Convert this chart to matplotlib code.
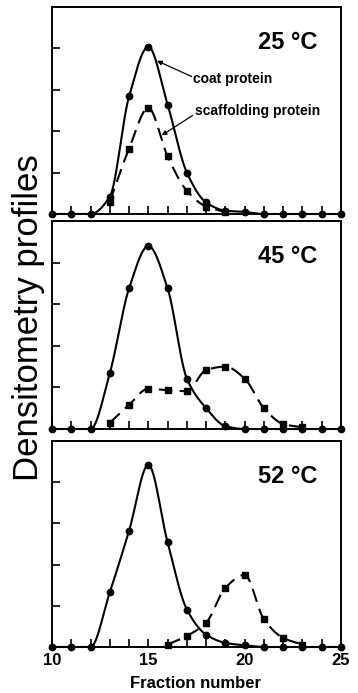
import numpy as np
import matplotlib
matplotlib.use("Agg")
import matplotlib.pyplot as plt

plt.rcParams['font.family'] = ['Liberation Sans', 'DejaVu Sans']

# ---- data ----
fractions = list(range(10, 26))

coat_25 = [0, 0, 0, 0.42, 2.84, 4.04, 2.64, 1.00, 0.28, 0.08, 0.05, 0, 0, 0, 0, 0]
scaf_x_25 = [13, 14, 15, 16, 17, 18, 19]
scaf_25 = [0.30, 1.58, 2.56, 1.39, 0.56, 0.18, 0.05]

coat_45 = [0, 0, 0, 1.34, 3.38, 4.40, 3.38, 1.21, 0.50, 0.07, 0, 0, 0, 0, 0, 0]
scaf_x_45 = [13, 14, 15, 16, 17, 18, 19, 20, 21, 22, 23]
scaf_45 = [0.15, 0.58, 0.97, 0.93, 0.91, 1.42, 1.50, 1.21, 0.50, 0.12, 0.04]

coat_52 = [0, 0, 0, 1.33, 2.82, 4.42, 2.54, 0.91, 0.30, 0.10, 0.04, 0, 0, 0, 0, 0]
scaf_x_52 = [16, 17, 18, 19, 20, 21, 22, 23]
scaf_52 = [0.06, 0.27, 0.59, 1.44, 1.75, 0.67, 0.22, 0.06]

panel_titles = ["25 \u00b0C", "45 \u00b0C", "52 \u00b0C"]
x_tick_values = [10, 15, 20, 25]


def pchip(x, y, n=25):
    """Shape-preserving smooth curve through the data points (for drawing)."""
    x = np.asarray(x, float)
    y = np.asarray(y, float)
    h = np.diff(x)
    delta = np.diff(y) / h
    d = np.zeros_like(y)
    for k in range(1, len(y) - 1):
        if delta[k - 1] * delta[k] > 0:
            w1 = 2 * h[k] + h[k - 1]
            w2 = h[k] + 2 * h[k - 1]
            d[k] = (w1 + w2) / (w1 / delta[k - 1] + w2 / delta[k])
    d[0] = delta[0]
    d[-1] = delta[-1]
    xs, ys = [], []
    for k in range(len(x) - 1):
        t = np.linspace(0, 1, n, endpoint=(k == len(x) - 2))
        h00 = 2 * t**3 - 3 * t**2 + 1
        h10 = t**3 - 2 * t**2 + t
        h01 = -2 * t**3 + 3 * t**2
        h11 = t**3 - t**2
        xs.append(x[k] + t * h[k])
        ys.append(h00 * y[k] + h10 * h[k] * d[k] + h01 * y[k + 1] + h11 * h[k] * d[k + 1])
    return np.concatenate(xs), np.concatenate(ys)


fig = plt.figure(figsize=(3.58, 6.93), dpi=100)

left = 52 / 358
width = 289 / 358
panels = [
    (1 - 214 / 693, 207 / 693),
    (1 - 429 / 693, 208 / 693),
    (1 - 647 / 693, 206 / 693),
]
datasets = [
    (coat_25, scaf_x_25, scaf_25),
    (coat_45, scaf_x_45, scaf_45),
    (coat_52, scaf_x_52, scaf_52),
]

axes = []
for i, ((bottom, height), (coat, sx, sy)) in enumerate(zip(panels, datasets)):
    ax = fig.add_axes([left, bottom, width, height])
    axes.append(ax)
    ax.set_xlim(10, 25)
    ax.set_ylim(0, 5)

    cx, cy = pchip(fractions, coat)
    ax.plot(cx, cy, color='black', lw=1.5, solid_capstyle='round', clip_on=False, zorder=3)
    ax.plot(fractions, coat, 'o', color='black', ms=4.6, clip_on=False, zorder=5)

    px, py = pchip(sx, sy)
    ax.plot(px, py, color='black', lw=1.5, dashes=(6.5, 3.5), clip_on=False, zorder=3)
    ax.plot(sx, sy, 's', color='black', ms=4.3, clip_on=False, zorder=5)

    ax.text(23.75, 4.15, panel_titles[i], ha='right', va='center',
            fontsize=17, fontweight='bold')

    for sp in ax.spines.values():
        sp.set_linewidth(1.4)

    ax.set_yticks([1, 2, 3, 4])
    ax.set_yticklabels([])
    ax.set_xticks(range(10, 26))
    ax.tick_params(axis='both', direction='in', length=6, width=1.2)
    ax.tick_params(axis='x', labelbottom=False)

# bottom panel labels
ax3 = axes[2]
ax3.set_xticklabels([str(v) if v in x_tick_values else "" for v in range(10, 26)])
ax3.tick_params(axis='x', labelbottom=True, pad=4, labelsize=12)
for t in ax3.get_xticklabels():
    t.set_fontweight('bold')

# annotations in top panel
ax1 = axes[0]
ax1.text(17.32, 3.27, "coat protein", ha='left', va='center',
         fontsize=10, fontweight='bold')
ax1.text(17.42, 2.5, "scaffolding protein", ha='left', va='center',
         fontsize=10, fontweight='bold')
arrow = dict(arrowstyle='-|>', color='black', lw=0.9, mutation_scale=7,
             shrinkA=0, shrinkB=0)
ax1.annotate("", xy=(15.45, 3.70), xytext=(17.25, 3.32), arrowprops=arrow)
ax1.annotate("", xy=(15.69, 1.90), xytext=(17.30, 2.38), arrowprops=arrow)

fig.text(29 / 358, 1 - 317.5 / 693, "Densitometry profiles", rotation=90,
         ha='center', va='center', fontsize=25)
fig.text(196 / 358, 1 - 684 / 693, "Fraction number", ha='center', va='center',
         fontsize=12, fontweight='bold')

fig.savefig("out.png", dpi=100)
